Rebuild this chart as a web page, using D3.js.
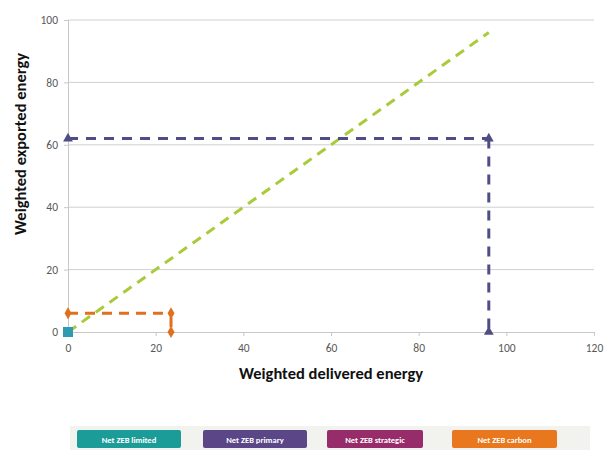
<!DOCTYPE html>
<html><head><meta charset="utf-8">
<script src="https://cdn.jsdelivr.net/npm/d3@7"></script>
<style>body{margin:0;background:#fff;font-family:Calibri,"Liberation Sans",Arial,sans-serif}</style>
</head><body><svg id="c" width="606" height="450"></svg>
<script>
const xTicks = [0,20,40,60,80,100,120];
const yTicks = [0,20,40,60,80,100];
const balanceLine = [[0,0],[96,96]];
const primaryPts = [[0,62],[96,62],[96,0]];
const carbonPts = [[0,6],[23.5,6],[23.5,0]];
const limitedPts = [[0,0]];
const legendLabels = ["Net ZEB limited","Net ZEB primary","Net ZEB strategic","Net ZEB carbon"];
const legendColors = ["#1c9c98","#5b4787","#972c6b","#e8771d"];

const svg = d3.select("#c");
const x = d3.scaleLinear().domain([0,120]).range([68,594]);
const y = d3.scaleLinear().domain([0,100]).range([332,20]);
const font = "Calibri,'Liberation Sans',Arial,sans-serif";

// gridlines
svg.append("g").selectAll("line").data(yTicks.filter(d=>d>0)).join("line")
  .attr("x1",x(0)).attr("x2",x(120)).attr("y1",d=>y(d)).attr("y2",d=>y(d))
  .attr("stroke","#d0d0d0").attr("stroke-width",1);

// axes
const xAxis = svg.append("g").attr("transform",`translate(0,${y(0)})`)
  .call(d3.axisBottom(x).tickValues(xTicks).tickSize(4).tickPadding(8));
const yAxis = svg.append("g").attr("transform",`translate(${x(0)},0)`)
  .call(d3.axisLeft(y).tickValues(yTicks).tickSize(4).tickPadding(6));
[xAxis,yAxis].forEach(a=>{
  a.selectAll(".domain").attr("stroke","#c8c8c8");
  a.selectAll(".tick line").attr("stroke","#c8c8c8");
  a.selectAll("text").attr("fill","#595959").style("font-size","11.5px").style("font-family",font);
});

const line = d3.line().x(d=>x(d[0])).y(d=>y(d[1]));
function segs(pts){ const s=[]; for(let i=0;i<pts.length-1;i++) s.push([pts[i],pts[i+1]]); return s; }

// balance line
svg.append("path").attr("d",line(balanceLine)).attr("fill","none")
  .attr("stroke","#a9cb3b").attr("stroke-width",3).attr("stroke-dasharray","10,7");

// primary
svg.append("g").selectAll("path").data(segs(primaryPts)).join("path").attr("d",line).attr("fill","none")
  .attr("stroke","#4e4d85").attr("stroke-width",3).attr("stroke-dasharray","10,8");
svg.append("g").selectAll("path").data(primaryPts).join("path")
  .attr("d",d3.symbol(d3.symbolTriangle,42)).attr("fill","#4e4d85")
  .attr("transform",d=>`translate(${x(d[0])},${y(d[1])})`);

// carbon
svg.append("g").selectAll("path").data(segs(carbonPts)).join("path").attr("d",line).attr("fill","none")
  .attr("stroke","#e0701e").attr("stroke-width",3).attr("stroke-dasharray","10,7")
  .attr("stroke-dashoffset",(d,i)=>i===1?-4:0);
svg.append("g").selectAll("path").data(carbonPts).join("path")
  .attr("d",d3.symbol(d3.symbolDiamond,42)).attr("fill","#e0701e")
  .attr("transform",d=>`translate(${x(d[0])},${y(d[1])})`);

// limited
svg.append("g").selectAll("rect").data(limitedPts).join("rect")
  .attr("x",d=>x(d[0])-5).attr("y",d=>y(d[1])-5).attr("width",10).attr("height",10)
  .attr("fill","#2e9bb0");

// axis titles
svg.append("text").attr("x",331).attr("y",379).attr("text-anchor","middle")
  .style("font-size","16.5px").style("font-weight","bold").style("font-family",font).attr("fill","#111")
  .text("Weighted delivered energy");
svg.append("text").attr("transform","translate(26,144) rotate(-90)").attr("text-anchor","middle")
  .style("font-size","16.5px").style("font-weight","bold").style("font-family",font).attr("fill","#111")
  .text("Weighted exported energy");

// legend
svg.append("rect").attr("x",70).attr("y",426).attr("width",520).attr("height",24).attr("fill","#f2f2ee");
const lx = [77,203,327,452], lw = [104,104,96,105];
const lg = svg.append("g").selectAll("g").data(legendLabels).join("g");
lg.append("rect").attr("x",(d,i)=>lx[i]).attr("y",430).attr("width",(d,i)=>lw[i]).attr("height",18)
  .attr("rx",2).attr("fill",(d,i)=>legendColors[i]);
lg.append("text").attr("x",(d,i)=>lx[i]+lw[i]/2).attr("y",442.5).attr("text-anchor","middle")
  .attr("fill","#fff").style("font-size","8.5px").style("font-weight","bold").style("font-family",font).text(d=>d);
</script></body></html>
